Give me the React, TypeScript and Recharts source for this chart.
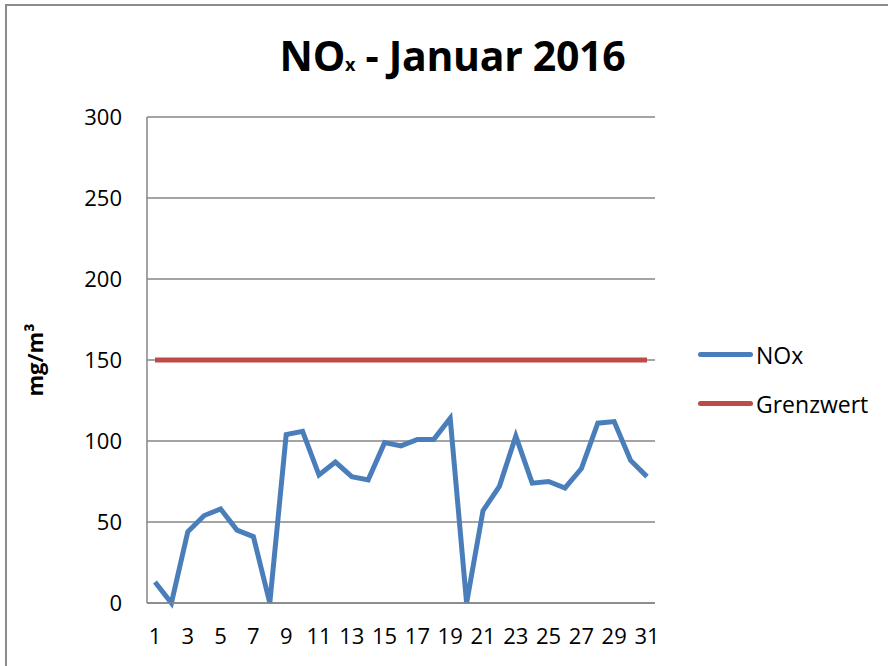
import { LineChart, Line, XAxis, YAxis, CartesianGrid } from 'recharts';

const days = Array.from({ length: 31 }, (_, i) => String(i + 1));
const noxValues = [13, 0, 44, 54, 58, 45, 41, 0, 104, 106, 79, 87, 78, 76, 99, 97, 101, 101, 114, 0, 57, 72, 103, 74, 75, 71, 83, 111, 112, 88, 78];
const grenzwert = 150;
const yTicks = [0, 50, 100, 150, 200, 250, 300];

const FONT = '"Open Sans", Calibri, sans-serif';
const BLUE = '#4a7ebb';
const RED = '#be4b48';
const GRID = '#868686';

const legendItems = [
  { name: 'NOx', color: BLUE },
  { name: 'Grenzwert', color: RED },
];

function ChartLegend() {
  return (
    <div style={{ position: 'absolute', left: 698, top: 330, fontFamily: FONT, fontSize: 23, color: '#000' }}>
      {legendItems.map(item => (
        <div key={item.name} style={{ display: 'flex', alignItems: 'center', height: 49 }}>
          <div style={{ width: 55, height: 5, borderRadius: 3, background: item.color, marginRight: 3 }} />
          <span>{item.name}</span>
        </div>
      ))}
    </div>
  );
}

export default function App() {
  const data = days.map((d, i) => ({ day: d, nox: noxValues[i], limit: grenzwert }));

  return (
    <div style={{ position: 'absolute', left: 0, top: 0, width: 888, height: 666, overflow: 'hidden', background: '#fff' }}>
      <div style={{ position: 'absolute', left: 5, top: 4, width: 950, height: 750, border: '2px solid #8c8c8c' }} />
      <div style={{ position: 'absolute', left: 0, width: 905, top: 30, textAlign: 'center', fontFamily: FONT, fontWeight: 700, fontSize: 41, letterSpacing: -0.3, lineHeight: '50px' }}>
        NO<span style={{ fontSize: 18 }}>x</span> - Januar 2016
      </div>
      <div style={{ position: 'absolute', left: 34, top: 360, transform: 'translate(-50%, -50%) rotate(-90deg)', fontFamily: FONT, fontWeight: 700, fontSize: 22, whiteSpace: 'nowrap' }}>
        mg/m³
      </div>
      <LineChart width={888} height={666} data={data} margin={{ top: 117, right: 233, bottom: 23, left: 87 }}>
        <CartesianGrid vertical={false} stroke={GRID} strokeWidth={1.5} />
        <XAxis
          dataKey="day"
          interval={1}
          padding={{ left: 8, right: 8 }}
          height={40}
          stroke={GRID}
          strokeWidth={1.5}
          tickLine={false}
          tickSize={6}
          tickMargin={19}
          tick={{ fill: '#000', fontSize: 22, fontFamily: FONT }}
        />
        <YAxis
          domain={[0, 300]}
          ticks={yTicks}
          width={60}
          stroke={GRID}
          strokeWidth={1.5}
          tickLine={false}
          tickSize={6}
          tickMargin={19}
          tick={{ fill: '#000', fontSize: 22, fontFamily: FONT }}
        />
        <Line dataKey="nox" name="NOx" stroke={BLUE} strokeWidth={5} dot={false} isAnimationActive={false} strokeLinejoin="miter" />
        <Line dataKey="limit" name="Grenzwert" stroke={RED} strokeWidth={5} dot={false} isAnimationActive={false} />
      </LineChart>
      <ChartLegend />
    </div>
  );
}
